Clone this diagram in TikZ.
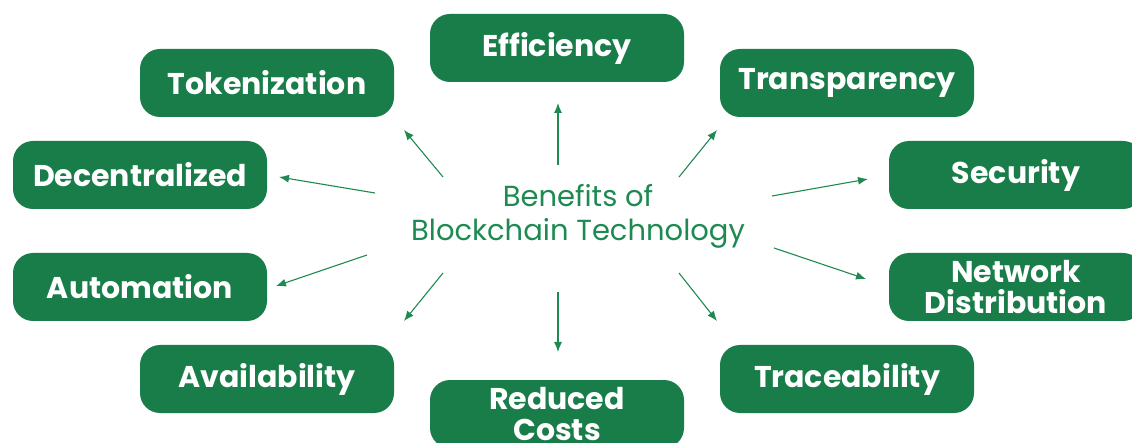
\documentclass[tikz,border=0pt]{standalone}
\usepackage{fontspec}
\setmainfont{Poppins}
\usepackage{xcolor}
\usetikzlibrary{arrows.meta}
\definecolor{bcgreen}{RGB}{24,125,72}
\definecolor{bctext}{RGB}{30,138,82}
\tikzset{
  benefit/.style={rectangle,rounded corners=20pt,fill=bcgreen,text=white,
    minimum width=254pt,minimum height=68pt,inner sep=0pt,align=center,
    font=\fontsize{30}{31}\selectfont\bfseries},
  link/.style={draw=bctext,line width=1.1pt,-{Latex[length=10pt,width=8pt]}}
}

\begin{document}
\begin{tikzpicture}[x=1pt,y=-1pt]
\useasboundingbox (0,0) rectangle (1132,443);
\node[text=bctext,align=center,font=\fontsize{29}{34}\selectfont] (hub) at (578,216) {Benefits of\\Blockchain Technology};
\node[benefit] (eff) at (557,48) {Efficiency};
\node[benefit] (tok) at (267,83) {Tokenization};
\node[benefit] (tra) at (847,83) {Transparency};
\node[benefit] (dec) at (140,175) {Decentralized};
\node[benefit] (sec) at (1016,175) {Security};
\node[benefit] (aut) at (140,287) {Automation};
\node[benefit] (net) at (1016,287) {Network\\Distribution};
\node[benefit] (ava) at (267,379) {Availability};
\node[benefit] (trc) at (847,379) {Traceability};
\node[benefit] (red) at (557,414) {Reduced\\Costs};
% arrow ends
\coordinate (eff-s) at (558,165); \coordinate (eff-e) at (558,103);
\coordinate (tok-s) at (443,177); \coordinate (tok-e) at (404,130);
\coordinate (tra-s) at (679,177); \coordinate (tra-e) at (717,130);
\coordinate (dec-s) at (375,193); \coordinate (dec-e) at (279,177);
\coordinate (sec-s) at (772,196); \coordinate (sec-e) at (868,179);
\coordinate (aut-s) at (367,255); \coordinate (aut-e) at (276,286);
\coordinate (net-s) at (774,248); \coordinate (net-e) at (866,279);
\coordinate (ava-s) at (443,273); \coordinate (ava-e) at (404,321);
\coordinate (trc-s) at (679,273); \coordinate (trc-e) at (717,321);
\coordinate (red-s) at (558,292); \coordinate (red-e) at (558,352);
\path (eff-s) edge [link] (eff-e);
\path (tok-s) edge [link] (tok-e);
\path (tra-s) edge [link] (tra-e);
\path (dec-s) edge [link] (dec-e);
\path (sec-s) edge [link] (sec-e);
\path (aut-s) edge [link] (aut-e);
\path (net-s) edge [link] (net-e);
\path (ava-s) edge [link] (ava-e);
\path (trc-s) edge [link] (trc-e);
\path (red-s) edge [link] (red-e);
\end{tikzpicture}
\end{document}
